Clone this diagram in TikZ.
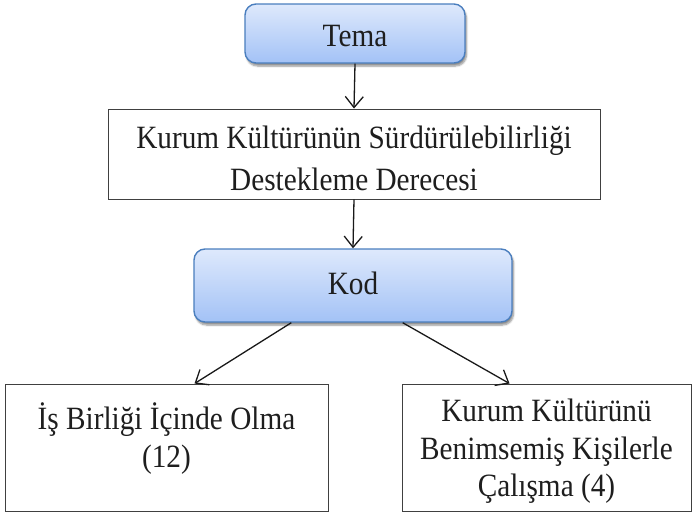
\documentclass[tikz,border=0pt]{standalone}
\usepackage{fontspec}
\setmainfont{Liberation Serif}[FakeStretch=0.9]
\usetikzlibrary{arrows.meta,calc,shadows.blur}

\definecolor{boxtop}{RGB}{222,233,252}
\definecolor{boxbottom}{RGB}{163,194,246}
\definecolor{boxedge}{RGB}{74,126,190}
\definecolor{textcol}{RGB}{30,30,30}

\tikzset{
  headbox/.style={draw=boxedge, line width=1.4pt, rounded corners=11pt,
    top color=boxtop, bottom color=boxbottom,
    blur shadow={shadow xshift=1.5pt, shadow yshift=-3pt, shadow blur steps=6, shadow opacity=45},
    inner sep=0pt},
  plainbox/.style={draw=black!75, line width=0.9pt, fill=white, inner sep=0pt},
  boxtext/.style={text=textcol, align=center, inner sep=0pt},
  link/.style={draw=black!90, line width=1.3pt,
    -{Straight Barb[length=11pt,width=18pt,line width=1.3pt]}},
  every node/.style={font=\fontsize{32.5}{37.5}\selectfont}
}

\begin{document}
\begin{tikzpicture}[x=1pt,y=-1pt]
  \useasboundingbox (0,0) rectangle (694,515);

  % theme header
  \node[headbox, minimum width=220pt, minimum height=59pt] (tema) at (355,33.5) {};
  \node[boxtext] (temametin) at ($(tema.center)+(0,3)$) {Tema};

  % research question
  \node[plainbox, minimum width=492pt, minimum height=90pt] (soru) at (354,154) {};
  \node[boxtext] (sorumetin) at ($(soru.center)+(0,4)$)
    {Kurum Kültürünün Sürdürülebilirliği\\[4.5pt]Destekleme Derecesi};

  % code header
  \node[headbox, minimum width=318pt, minimum height=73pt] (kod) at (353,285.5) {};
  \node[boxtext] (kodmetin) at ($(kod.center)+(0,-2)$) {Kod};

  % codes with frequencies
  \node[plainbox, minimum width=323pt, minimum height=127pt] (isbirligi) at (166.5,447.5) {};
  \node[boxtext] (isbirligimetin) at ($(isbirligi.center)+(0,-9)$)
    {İş Birliği İçinde Olma\\(12)};
  \node[plainbox, minimum width=289pt, minimum height=127pt] (benimseme) at (546.5,447.5) {};
  \node[boxtext] (benimsememetin) at ($(benimseme.center)+(0,4)$)
    {Kurum Kültürünü\\Benimsemiş Kişilerle\\Çalışma (4)};

  % connectors
  \draw[link] (tema.south) -- (soru.north);
  \draw[link] (soru.south) -- (kod.north);
  \draw[link] ($(kod.south west)+(98,0)$) -- ($(isbirligi.north west)+(190,0)$);
  \draw[link] ($(kod.south east)+(-110,0)$) -- ($(benimseme.north west)+(108,0)$);
\end{tikzpicture}
\end{document}
